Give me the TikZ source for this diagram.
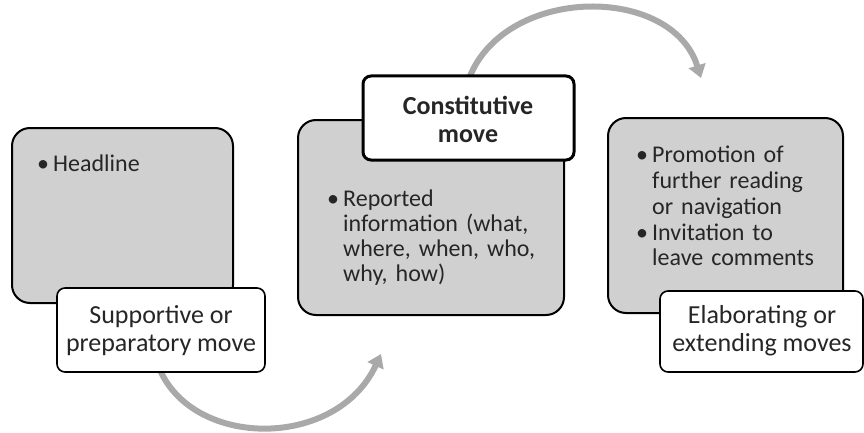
\documentclass[tikz,border=0pt]{standalone}
\usepackage{fontspec}
\setmainfont{Carlito}
\usetikzlibrary{arrows.meta}
\definecolor{boxgray}{HTML}{D0D0D0}
\definecolor{arrgray}{HTML}{A9A9A9}
\definecolor{txt}{HTML}{262626}
\newcommand{\nl}{\hskip0pt plus 1fill\break}
\newcommand{\bitem}[1]{\par\hyphenpenalty=10000 \exhyphenpenalty=10000 \noindent\hangindent=16pt\hangafter=1 \makebox[16pt][l]{\textbullet}#1\par}
\tikzset{
  movebox/.style={draw=black, line width=2pt, fill=boxgray, rounded corners=18pt},
  labelbox/.style={draw=black, line width=1.6pt, fill=white, rounded corners=8pt},
  flowarrow/.style={draw=arrgray, line width=6pt, -{Triangle[length=13pt,width=17pt]}},
  bullettext/.style={anchor=north west, inner sep=0pt, text width=#1, align=left, text=txt,
    font=\fontsize{24}{25}\selectfont},
  labeltext/.style={align=center, inner sep=0pt, text=txt, font=\fontsize{26}{28}\selectfont}
}
\begin{document}
\begin{tikzpicture}[x=1pt,y=1pt]
\useasboundingbox (0,0) rectangle (864,432);
% arrows (behind)
\coordinate (a1s) at (160,62);
\coordinate (a1e) at (381,78);
\coordinate (a2s) at (470,356);
\coordinate (a2e) at (701,354);
\draw[flowarrow] (a1s) .. controls (195,-17) and (337,-17) .. (a1e);
\draw[flowarrow] (a2s) .. controls (508,447) and (672,447) .. (a2e);
% box 1
\draw[movebox] (12,304) rectangle (233,129);
\node[bullettext=190pt] (t1) at (37,286) {\bitem{Headline}};
\draw[labelbox] (57,144) rectangle (265,60);
\node[labeltext] (l1) at (161,101) {Supportive or\\preparatory move};
% box 2
\draw[movebox] (298,312) rectangle (564,117);
\node[bullettext=218pt] (t2) at (327,251) {\bitem{Reported\nl information (what,\nl where, when, who,\nl why, how)}};
\draw[labelbox, line width=3pt] (363,356) rectangle (574,272);
\node[labeltext, font=\fontsize{26}{28}\selectfont\bfseries] (l2) at (468,313) {Constitutive\\move};
% box 3
\draw[movebox] (608,314) rectangle (843,119);
\node[bullettext=210pt, font=\fontsize{24}{25.7}\selectfont] (t3) at (636,295) {\bitem{Promotion of\nl further reading\nl or navigation}\bitem{Invitation to\nl leave comments}};
\draw[labelbox] (660,141) rectangle (863,60);
\node[labeltext] (l3) at (762,101) {Elaborating or\\extending moves};
\end{tikzpicture}
\end{document}
